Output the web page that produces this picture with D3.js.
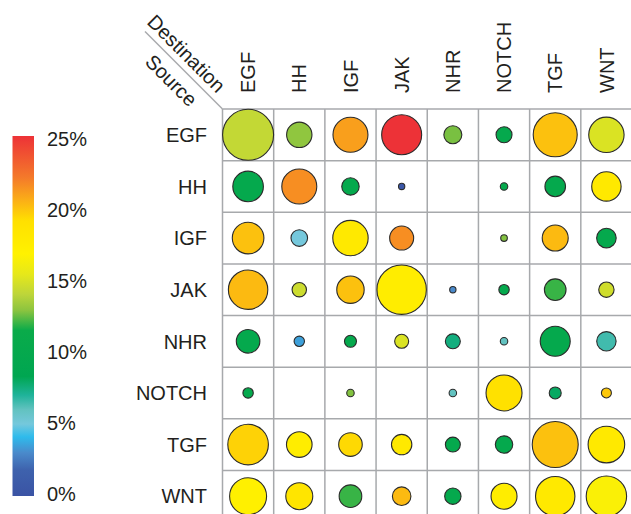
<!DOCTYPE html>
<html>
<head>
<meta charset="utf-8">
<script src="https://cdn.jsdelivr.net/npm/d3@7"></script>
<style>
  html, body { margin: 0; padding: 0; background: #fff; }
  svg { display: block; }
  text { font-family: "Liberation Sans", Arial, Helvetica, sans-serif; fill: #231f20; }
</style>
</head>
<body>
<svg id="chart" width="631" height="514"></svg>
<script>
// Signalling pathways (sources = rows, destinations = columns)
const pathways = ["EGF", "HH", "IGF", "JAK", "NHR", "NOTCH", "TGF", "WNT"];

// Percentage per source → destination pair (colour); null = no interaction
const pctEGF   = [14.2, 13.0, 21.0, 25.0, 12.7, 10.0, 20.0, 15.0];
const pctHH    = [10.0, 21.5, 10.0,  0.5, null, 10.0, 10.0, 18.0];
const pctIGF   = [20.0,  5.0, 18.0, 21.5, null, 12.8, 20.2, 10.0];
const pctJAK   = [20.2, 14.5, 20.0, 17.5,  3.0, 10.0, 12.0, 14.6];
const pctNHR   = [10.0,  3.5, 10.0, 15.0,  7.5,  6.0, 10.0,  6.5];
const pctNOTCH = [10.0, null, 12.8, null,  6.0, 19.0,  8.0, 19.8];
const pctTGF   = [19.5, 17.5, 19.3, 18.0, 10.0, 10.0, 20.0, 18.0];
const pctWNT   = [17.0, 18.5, 12.0, 20.2, 10.0, 17.5, 18.0, 16.5];

// Number of interactions per pair (circle area)
const cntEGF   = [650, 161, 306, 400,  81,  64, 484, 313];
const cntHH    = [234, 306,  76,  10, null, 14, 106, 216];
const cntIGF   = [250,  69, 313, 144, null, 11, 169,  96];
const cntJAK   = [388,  52, 188, 610,  10,  27, 117,  59];
const cntNHR   = [139,  27,  36,  49,  56,  14, 225,  94];
const cntNOTCH = [ 27, null, 14, null, 14, 324,  36,  25];
const cntTGF   = [412, 164, 139, 104,  56,  76, 529, 335];
const cntWNT   = [342, 182, 128,  86,  67, 169, 388, 408];

// Colour bar stops (percent → colour)
const stopPct    = [0, 1.8, 3, 4.1, 5, 6, 7, 8.3, 11.5, 12.9, 14, 15.4, 16.8, 19.1, 20.5, 22.1, 25];
const stopColors = ["#3a53a4", "#3e62ad", "#4a8acb", "#2ebbec", "#75c8dc", "#62c2c0", "#1fb39a",
                    "#00a651", "#0aab4a", "#8cc43f", "#bdd53a", "#e6e81a", "#fff200", "#ffe000",
                    "#fbb016", "#f47a2a", "#ed3237"];
const legendTicks = [0, 5, 10, 15, 20, 25];

const pctRows = [pctEGF, pctHH, pctIGF, pctJAK, pctNHR, pctNOTCH, pctTGF, pctWNT];
const cntRows = [cntEGF, cntHH, cntIGF, cntJAK, cntNHR, cntNOTCH, cntTGF, cntWNT];

const cells = [];
pathways.forEach((src, i) => {
  pathways.forEach((dst, j) => {
    if (cntRows[i][j] != null) {
      cells.push({ src, dst, pct: pctRows[i][j], cnt: cntRows[i][j] });
    }
  });
});

const svg = d3.select("#chart");
const gridColor = "#a7a9ac";
const fontSize = "20px";

const x = d3.scaleBand().domain(pathways).range([222.5, 632]).padding(0);
const y = d3.scaleBand().domain(pathways).range([109, 522]).padding(0);
const r = d3.scaleSqrt().domain([0, 650]).range([0, 25.5]);
const color = d3.scaleLinear().domain(stopPct).range(stopColors).interpolate(d3.interpolateRgb);

// Grid
const grid = svg.append("g").attr("stroke", gridColor).attr("stroke-width", 1.5);
const xEdges = pathways.map(d => x(d)).concat([x.range()[1]]);
const yEdges = pathways.map(d => y(d)).concat([y.range()[1]]);
grid.selectAll("line.v").data(xEdges).join("line")
  .attr("x1", d => d).attr("x2", d => d)
  .attr("y1", y.range()[0]).attr("y2", y.range()[1]);
grid.selectAll("line.h").data(yEdges).join("line")
  .attr("y1", d => d).attr("y2", d => d)
  .attr("x1", x.range()[0]).attr("x2", x.range()[1]);
// Corner diagonal separating the two header captions
grid.append("line")
  .attr("x1", x.range()[0] - 77.5).attr("y1", y.range()[0] - 77.5)
  .attr("x2", x.range()[0]).attr("y2", y.range()[0]);

// Circles
svg.append("g").selectAll("circle").data(cells).join("circle")
  .attr("cx", d => x(d.dst) + x.bandwidth() / 2)
  .attr("cy", d => y(d.src) + y.bandwidth() / 2)
  .attr("r", d => r(d.cnt))
  .attr("fill", d => color(d.pct))
  .attr("stroke", "#2b2b2b")
  .attr("stroke-width", 1.1);

// Column labels (destination)
svg.append("g").selectAll("text").data(pathways).join("text")
  .attr("transform", d => `translate(${x(d) + x.bandwidth() / 2},93) rotate(-90)`)
  .attr("dy", "0.36em")
  .attr("text-anchor", "start")
  .style("font-size", fontSize)
  .text(d => d);

// Row labels (source)
svg.append("g").selectAll("text").data(pathways).join("text")
  .attr("x", 207)
  .attr("y", d => y(d) + y.bandwidth() / 2)
  .attr("dy", "0.36em")
  .attr("text-anchor", "end")
  .style("font-size", fontSize)
  .text(d => d);

// Header captions
svg.append("text")
  .attr("transform", "translate(146,23) rotate(45)")
  .style("font-size", fontSize)
  .text("Destination");
svg.append("text")
  .attr("transform", "translate(144,63) rotate(45)")
  .style("font-size", fontSize)
  .text("Source");

// Colour legend
const legendY = d3.scaleLinear().domain([0, 25]).range([496, 136]);
const labelY = d3.scaleLinear().domain([0, 25]).range([493, 138]);
const defs = svg.append("defs");
const grad = defs.append("linearGradient")
  .attr("id", "pct-gradient")
  .attr("x1", 0).attr("y1", 1).attr("x2", 0).attr("y2", 0);
grad.selectAll("stop").data(stopPct).join("stop")
  .attr("offset", d => d / 25)
  .attr("stop-color", (d, i) => stopColors[i]);

svg.append("rect")
  .attr("x", 12.5).attr("width", 21.5)
  .attr("y", legendY(25)).attr("height", legendY(0) - legendY(25))
  .attr("fill", "url(#pct-gradient)");

const legendAxis = d3.axisRight(labelY)
  .tickValues(legendTicks)
  .tickSize(0)
  .tickPadding(13)
  .tickFormat(d => d + "%");
const la = svg.append("g").attr("transform", "translate(34,0)").call(legendAxis);
la.select(".domain").remove();
la.selectAll("text")
  .attr("dy", "0.36em")
  .style("font-size", fontSize)
  .style("font-family", "'Liberation Sans', Arial, Helvetica, sans-serif")
  .attr("fill", "#231f20");
</script>
</body>
</html>
